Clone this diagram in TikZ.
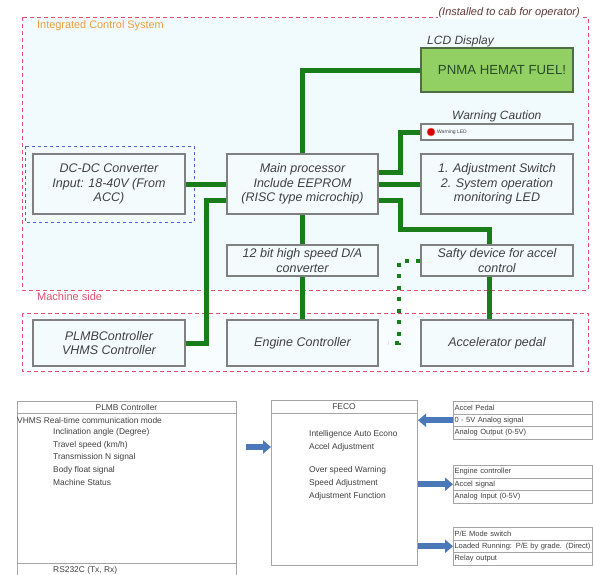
\documentclass[tikz,border=0pt]{standalone}
\usepackage{fontspec}
\setmainfont{Liberation Sans}
\usetikzlibrary{arrows.meta,calc}
\definecolor{frame}{RGB}{225,80,110}
\definecolor{zonefill}{RGB}{241,250,253}
\definecolor{lowfill}{RGB}{248,253,255}
\definecolor{boxfill}{RGB}{244,251,253}
\definecolor{boxline}{RGB}{128,128,128}
\definecolor{gline}{RGB}{25,125,25}
\definecolor{txt}{RGB}{64,64,64}
\definecolor{orangelbl}{RGB}{236,160,60}
\definecolor{lcdfill}{RGB}{146,208,100}
\definecolor{lcdline}{RGB}{80,110,70}
\definecolor{lcdtxt}{RGB}{40,75,40}
\definecolor{bluearrow}{RGB}{74,120,184}
\definecolor{bluedash}{RGB}{80,96,208}
\definecolor{tabline}{RGB}{165,165,165}
\definecolor{cabtxt}{RGB}{96,56,56}
\begin{document}
\begin{tikzpicture}[x=1pt,y=-1pt,
  zone/.style={draw=frame, line width=1pt, dash pattern=on 4pt off 3pt},
  box/.style={draw=boxline, line width=1.5pt, fill=boxfill, align=center, inner sep=0pt,
    text=txt, font=\fontsize{12.5}{14.5}\selectfont\itshape},
  gl/.style={draw=gline, line width=5pt},
  gdot/.style={draw=gline, line width=4pt, dash pattern=on 4pt off 7.5pt},
  lbl/.style={anchor=west, inner sep=0pt, text=txt, font=\fontsize{12}{14}\selectfont\itshape},
  tab/.style={draw=tabline, line width=1pt},
  tt/.style={anchor=west, inner sep=0pt, text=txt, font=\fontsize{8.4}{10}\selectfont},
  rowbox/.style={draw=tabline, line width=1pt, anchor=north west, text width=137pt, minimum height=12.5pt,
    inner xsep=1pt, inner ysep=0pt, align=left, text=txt, font=\fontsize{7.5}{9}\selectfont},
  barrow/.style={draw=bluearrow, line width=6pt, -{Triangle[length=8pt,width=13pt]}}
]
\useasboundingbox (0,0) rectangle (593,574);
\clip (0,0) rectangle (593,574);

% zones
\draw[zone, fill=zonefill] (22,17) rectangle (588,290);
\draw[zone, fill=lowfill] (22,313) rectangle (588,371);
\draw[draw=bluedash, line width=0.8pt, dash pattern=on 3pt off 3pt] (25,146) rectangle (194,222);

\node[anchor=west, inner sep=0pt, text=orangelbl, font=\fontsize{10.9}{12}\selectfont] (ics) at (37,26) {Integrated Control System};
\node[anchor=east, fill=white, inner sep=1pt, text=cabtxt, font=\fontsize{11}{12}\selectfont\itshape] (cab) at (581,13) {(Installed to cab for operator)};
\node[anchor=west, inner sep=0pt, text=frame, font=\fontsize{11}{12}\selectfont] (ms) at (37,297) {Machine side};

% boxes
\node[box, minimum width=152pt, minimum height=60pt] (dcdc) at (109,184) {DC-DC Converter\\Input: 18-40V (From\\ACC)};
\node[box, minimum width=151pt, minimum height=60pt] (main) at (302.5,184) {Main processor\\Include EEPROM\\(RISC type microchip)};
\node[box, minimum width=152pt, minimum height=60pt] (adj) at (497,184) {1. Adjustment Switch\\2. System operation\\monitoring LED};
\node[box, draw=lcdline, fill=lcdfill, minimum width=152pt, minimum height=44pt, text=lcdtxt,
  font=\fontsize{13.2}{15}\selectfont] (lcd) at (497,70) {\hspace*{10pt}PNMA HEMAT FUEL!};
\node[box, minimum width=152pt, minimum height=16pt] (warn) at (497,132) {};
\node[box, minimum width=151pt, minimum height=31pt] (da) at (302.5,260.5) {12 bit high speed D/A\\converter};
\node[box, minimum width=152pt, minimum height=31pt] (safty) at (497,260.5) {Safty device for accel\\control};
\node[box, minimum width=152pt, minimum height=46pt] (plmb) at (109,343) {PLMBController\\VHMS Controller};
\node[box, minimum width=151pt, minimum height=46pt] (eng) at (302.5,343) {Engine Controller};
\node[box, minimum width=152pt, minimum height=46pt] (accel) at (497,343) {Accelerator pedal};

\node[lbl] (lcdlbl) at (427,41) {LCD Display};
\node[lbl] (warnlbl) at (452,116) {Warning Caution};
\node[circle, fill=red!85!black, draw=red!60, minimum size=8pt, inner sep=0pt] (led) at (431,132) {};
\node[anchor=west, inner sep=0pt, text=txt, font=\fontsize{5}{6}\selectfont] (ledtxt) at (437,132) {Warning LED};

% green connectors
\draw[gl] (main.north) |- (lcd.west);
\draw[gl] ([yshift=12pt]main.east) -- ++(22,0) |- (warn.west);
\draw[gl] (main.east) -- (adj.west);
\draw[gl] ([yshift=-16pt]main.east) -- ++(22,0) -- ++(0,29) -| ([xshift=-8pt]safty.north);
\draw[gl] ([xshift=-8pt]safty.south) -- ([xshift=-8pt]safty.south |- accel.north);
\draw[gl] (dcdc.east) -- (main.west);
\draw[gl] ([yshift=-16pt]main.west) -- ++(-20,0) |- (plmb.east);
\draw[gl] (main.south) -- (da.north);
\draw[gl] (da.south) -- (eng.north);
\draw[gdot, shorten >=9pt] (safty.west) -- ++(-21,0) |- (eng.east);

% PLMB table
\node[tab, anchor=north west, minimum width=219pt, minimum height=185pt, inner sep=0pt] (plmbtab) at (17,401) {};
\draw[tab] (17,413) -- (236,413);
\draw[tab] (17,563) -- (236,563);
\node[tt, anchor=center] (plmbhead) at (126.5,407) {PLMB Controller};
\node[tt] (vhms) at (17,420) {VHMS Real-time communication mode};
\node[tt] (incl) at (53,432.5) {Inclination angle (Degree)};
\node[tt] (trav) at (53,445) {Travel speed (km/h)};
\node[tt] (trans) at (53,457.5) {Transmission N signal};
\node[tt] (body) at (53,470) {Body float signal};
\node[tt] (mstat) at (53,482.5) {Machine Status};
\node[tt] (rs) at (53,570) {RS232C (Tx, Rx)};

% FECO table
\node[tab, anchor=north west, minimum width=146pt, minimum height=165pt, inner sep=0pt] (feco) at (271,400) {};
\draw[tab] (271,413) -- (417,413);
\node[tt, anchor=center] (fecohead) at (344,406.5) {FECO};
\node[tt] (iae) at (309,434) {Intelligence Auto Econo};
\node[tt] (accadj) at (309,447) {Accel Adjustment};
\node[tt] (osw) at (309,470) {Over speed Warning};
\node[tt] (sadj) at (309,483) {Speed Adjustment};
\node[tt] (afun) at (309,496) {Adjustment Function};

% right tables
\node[rowbox] (t1a) at (453,401) {Accel Pedal};
\node[rowbox] (t1b) at (453,413.5) {0 - 5V Analog signal};
\node[rowbox] (t1c) at (453,426) {Analog Output (0-5V)};
\node[rowbox] (t2a) at (453,465) {Engine controller};
\node[rowbox] (t2b) at (453,477.5) {Accel signal};
\node[rowbox] (t2c) at (453,490) {Analog Input (0-5V)};
\node[rowbox] (t3a) at (453,527) {P/E Mode switch};
\node[rowbox] (t3b) at (453,539.5) {Loaded Running: P/E by grade. (Direct)};
\node[rowbox] (t3c) at (453,552) {Relay output};

% blue arrows
\draw[barrow, shorten <=9pt] (plmbtab.east |- accadj) -- (feco.west |- accadj);
\draw[barrow] (t1b.west) -- (feco.east |- t1b);
\draw[barrow] (feco.east |- t2b) -- (t2b.west);
\draw[barrow] (feco.east |- t3b) -- (t3b.west);
\end{tikzpicture}
\end{document}
